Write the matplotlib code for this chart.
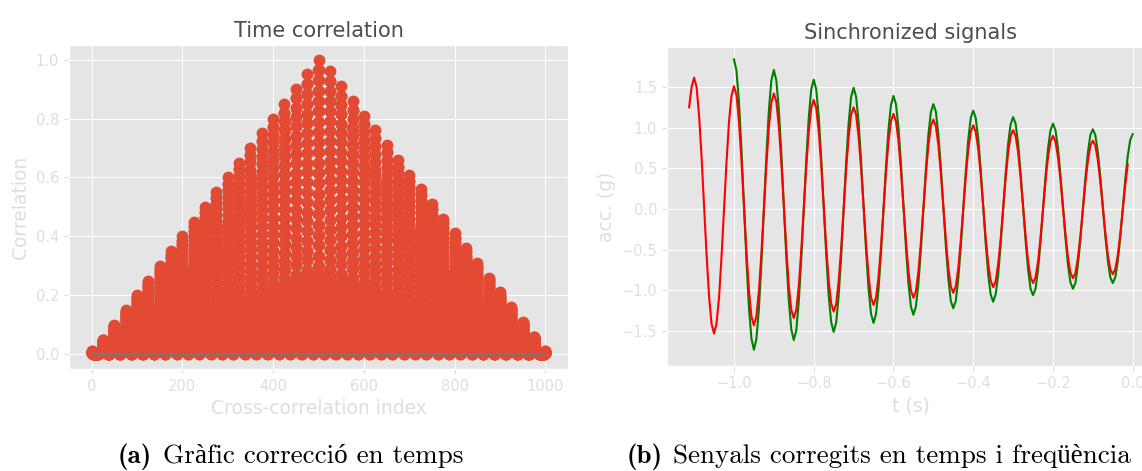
import numpy as np
import matplotlib
matplotlib.use("Agg")
import matplotlib.pyplot as plt

# --- left: cross-correlation ---
# height of each correlation peak (one every cycle_len lags)
peak_heights = [0.01, 0.05, 0.10, 0.15, 0.20, 0.25, 0.30, 0.35, 0.40, 0.45,
                0.50, 0.55, 0.60, 0.65, 0.70, 0.75, 0.80, 0.85, 0.90, 0.95,
                1.00, 0.96, 0.91, 0.86, 0.81, 0.76, 0.71, 0.66, 0.61, 0.56,
                0.51, 0.46, 0.41, 0.36, 0.31, 0.26, 0.21, 0.16, 0.11, 0.06,
                0.01]
cycle_len = 25
# half a cycle, going down from a peak: lag offset and fraction of the peak
half_offsets = [0.0, 0.03, 0.06, 0.09, 0.12, 0.15, 0.18, 0.21, 0.24, 0.27,
                0.3, 0.33, 0.36, 0.39, 0.42, 0.45, 0.48, 0.51, 0.54, 0.57,
                0.6, 1.3, 2.0, 2.8, 3.6, 4.4, 5.2, 6.0, 6.8, 7.6, 8.4, 9.2,
                10.0, 10.8, 11.6, 12.4]
half_levels = [1.0, 0.965, 0.93, 0.895, 0.86, 0.825, 0.79, 0.755, 0.72, 0.685,
               0.65, 0.615, 0.58, 0.545, 0.51, 0.475, 0.44, 0.405, 0.37, 0.335,
               0.30, 0.275, 0.255, 0.235, 0.215, 0.19, 0.17, 0.15, 0.125,
               0.10, 0.08, 0.06, 0.04, 0.02, 0.008, 0.002]

# --- right: synchronized signals ---
dt = 0.00625
red_t0 = -1.1125
red_acc = [1.25, 1.50, 1.615,
           1.50, 1.15, 0.64, 0.04, -0.56, -1.07, -1.41, -1.53,
           -1.41, -1.09, -0.59, -0.01, 0.57, 1.07, 1.39, 1.51,
           1.40, 1.08, 0.60, 0.04, -0.52, -1.00, -1.32, -1.43,
           -1.32, -1.01, -0.55, -0.01, 0.54, 1.00, 1.31, 1.42,
           1.32, 1.02, 0.57, 0.04, -0.49, -0.94, -1.24, -1.34,
           -1.24, -0.95, -0.51, 0.0, 0.51, 0.95, 1.24, 1.34,
           1.24, 0.96, 0.54, 0.04, -0.46, -0.88, -1.16, -1.26,
           -1.17, -0.89, -0.49, -0.01, 0.48, 0.88, 1.16, 1.25,
           1.16, 0.89, 0.50, 0.04, -0.43, -0.82, -1.09, -1.18,
           -1.09, -0.84, -0.46, -0.01, 0.45, 0.83, 1.08, 1.17,
           1.08, 0.84, 0.47, 0.04, -0.39, -0.76, -1.00, -1.09,
           -1.01, -0.77, -0.41, 0.01, 0.42, 0.78, 1.02, 1.10,
           1.02, 0.79, 0.44, 0.04, -0.37, -0.72, -0.95, -1.03,
           -0.95, -0.73, -0.39, 0.0, 0.39, 0.73, 0.95, 1.03,
           0.95, 0.74, 0.42, 0.04, -0.35, -0.67, -0.88, -0.96,
           -0.89, -0.68, -0.37, 0.01, 0.38, 0.69, 0.90, 0.97,
           0.90, 0.70, 0.39, 0.03, -0.33, -0.64, -0.84, -0.91,
           -0.84, -0.65, -0.35, -0.01, 0.34, 0.64, 0.83, 0.90,
           0.83, 0.64, 0.36, 0.03, -0.31, -0.59, -0.78, -0.85,
           -0.79, -0.60, -0.33, -0.01, 0.32, 0.59, 0.78, 0.84,
           0.78, 0.60, 0.33, 0.02, -0.29, -0.56, -0.74, -0.80,
           -0.74, -0.57, -0.31, -0.01, 0.29, 0.55]
green_t0 = -1.0
green_acc = [1.84,
             1.70, 1.32, 0.74, 0.06, -0.63, -1.21, -1.59, -1.73,
             -1.60, -1.23, -0.67, -0.01, 0.65, 1.21, 1.58, 1.71,
             1.58, 1.22, 0.69, 0.05, -0.59, -1.12, -1.48, -1.61,
             -1.49, -1.14, -0.62, -0.01, 0.60, 1.12, 1.47, 1.59,
             1.47, 1.14, 0.63, 0.04, -0.55, -1.06, -1.39, -1.51,
             -1.40, -1.07, -0.59, -0.01, 0.57, 1.05, 1.38, 1.49,
             1.38, 1.07, 0.60, 0.05, -0.51, -0.98, -1.29, -1.40,
             -1.29, -0.99, -0.54, -0.01, 0.53, 0.98, 1.28, 1.39,
             1.29, 1.00, 0.56, 0.05, -0.47, -0.91, -1.20, -1.30,
             -1.20, -0.92, -0.50, -0.01, 0.49, 0.91, 1.19, 1.29,
             1.20, 0.92, 0.52, 0.04, -0.45, -0.85, -1.13, -1.22,
             -1.13, -0.86, -0.47, -0.01, 0.46, 0.85, 1.12, 1.21,
             1.12, 0.87, 0.49, 0.04, -0.42, -0.80, -1.05, -1.14,
             -1.05, -0.81, -0.44, -0.01, 0.43, 0.80, 1.04, 1.13,
             1.05, 0.81, 0.45, 0.04, -0.38, -0.74, -0.98, -1.06,
             -0.98, -0.75, -0.41, -0.01, 0.40, 0.74, 0.97, 1.05,
             0.97, 0.75, 0.42, 0.04, -0.35, -0.68, -0.90, -0.98,
             -0.91, -0.69, -0.38, 0.0, 0.38, 0.69, 0.91, 0.98,
             0.91, 0.70, 0.40, 0.04, -0.33, -0.63, -0.84, -0.91,
             -0.84, -0.64, -0.35, 0.01, 0.36, 0.65, 0.85, 0.92]

captions = [("(a)", "Gràfic correcció en temps"),
            ("(b)", "Senyals corregits en temps i freqüència")]

# build the correlation curve cycle by cycle
off = np.array(half_offsets)
lev = np.array(half_levels)
lag, corr = [], []
for k in range(len(peak_heights) - 1):
    x0 = k * cycle_len
    lag += list(x0 + off)
    corr += list(peak_heights[k] * lev)
    lag += list(x0 + cycle_len - off[:0:-1])
    corr += list(peak_heights[k + 1] * lev[:0:-1])
lag.append((len(peak_heights) - 1) * cycle_len)
corr.append(peak_heights[-1])
lag = np.array(lag)
corr = np.array(corr)

t_red = red_t0 + dt * np.arange(len(red_acc))
t_green = green_t0 + dt * np.arange(len(green_acc))

plt.style.use("ggplot")
light = "#dedede"
plt.rcParams["xtick.color"] = light
plt.rcParams["ytick.color"] = light
plt.rcParams["axes.labelcolor"] = light
plt.rcParams["axes.titlecolor"] = "#4d4d4d"

fig = plt.figure(figsize=(11.42, 4.71), dpi=100)
ax1 = fig.add_axes([0.0604, 0.2166, 0.437, 0.688])
ax2 = fig.add_axes([0.584, 0.2229, 0.4273, 0.677])

ax1.plot(lag, corr, "o-", color="#E24A33", markersize=7.5, linewidth=1.5)
ax1.plot([lag[0], lag[-1]], [0, 0], color="#777777", linewidth=1.5)
ax1.set_title("Time correlation", fontsize=15)
ax1.set_xlabel("Cross-correlation index", fontsize=13.5)
ax1.set_ylabel("Correlation", fontsize=13.5)
ax1.tick_params(labelsize=10.5)

ax2.plot(t_green, green_acc, color="green", linewidth=1.5)
ax2.plot(t_red, red_acc, color="red", linewidth=1.5)
ax2.set_ylim(-1.93, 1.99)
ax2.set_title("Sinchronized signals", fontsize=15)
ax2.set_xlabel("t (s)", fontsize=13.5)
ax2.set_ylabel("acc. (g)", fontsize=13.5)
ax2.tick_params(labelsize=10.5)

# captions below each panel
rend = fig.canvas.get_renderer()
for (tag, text), x0 in zip(captions, [118 / 1142, 627 / 1142]):
    b = fig.text(x0, 0.017, tag, fontsize=19.5, family=["cmb10", "Liberation Serif"],
                 color="black", va="baseline")
    w = b.get_window_extent(rend).width / fig.bbox.width
    fig.text(x0 + w + 0.009, 0.017, text, fontsize=19.5,
             family=["cmr10", "Liberation Serif"], color="black", va="baseline")

fig.savefig("out.png", dpi=100, facecolor="white")
